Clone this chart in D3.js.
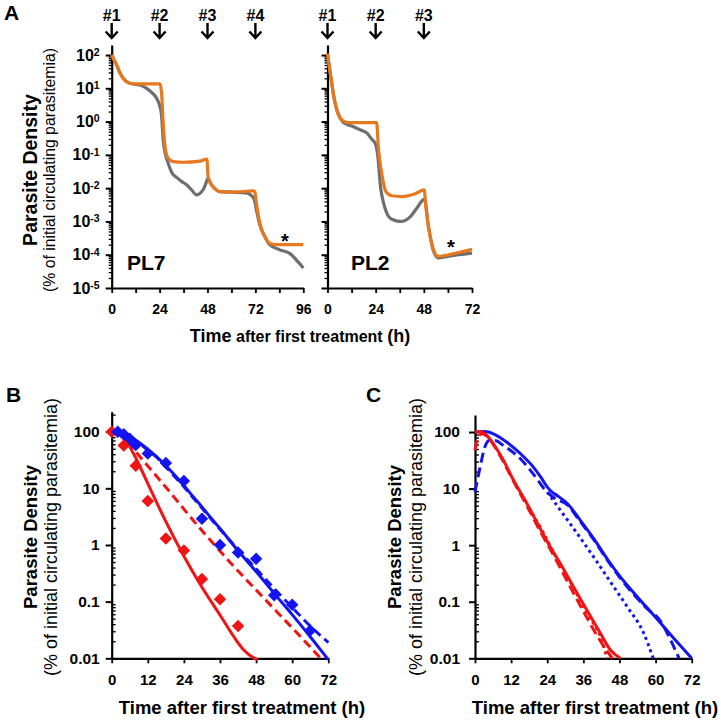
<!DOCTYPE html>
<html>
<head>
<meta charset="utf-8">
<script src="https://cdnjs.cloudflare.com/ajax/libs/d3/7.8.5/d3.min.js"></script>
<style>
body { margin: 0; background: #fff; }
svg { font-family: "Liberation Sans", Arial, sans-serif; }
</style>
</head>
<body>
<div id="graph"></div>
<script>
// panel A: [hours, % of initial circulating parasitemia]
var pl7Orange = [[0,100],[1,75],[2.5,50],[4,30],[5.8,20],[7,16.5],[8.3,14.8],[10.8,13.5],[24.2,13.5],[25,7],[25.8,0.9],[26.7,0.18],[27.5,0.1],[28.3,0.079],[30.8,0.063],[35.8,0.06],[44.2,0.065],[47.7,0.074],[48.3,0.022],[49.5,0.014],[50.8,0.011],[54.2,0.0079],[60.8,0.0076],[70.8,0.0083],[71.7,0.0078],[72.5,0.0035],[74.2,0.0009],[75.5,0.0005],[76.7,0.00035],[79.2,0.00022],[82.5,0.0002],[96,0.0002]];
var pl7Gray = [[0,100],[1,75],[2.5,50],[4,30],[5.8,20],[7,16.5],[8.3,14.8],[10.8,13.5],[14,12.6],[17.5,10],[20,7.6],[22.5,5],[24.2,2.8],[25,1.5],[25.8,0.28],[27,0.1],[28.3,0.056],[30,0.03],[32.5,0.021],[35,0.016],[37.5,0.0126],[40,0.0089],[42.5,0.0063],[44,0.0068],[45.8,0.0089],[47,0.013],[48.3,0.02],[49.5,0.014],[50.8,0.011],[54.2,0.0079],[60.8,0.0076],[67.5,0.0072],[70,0.006],[71.5,0.0045],[72.5,0.0022],[74.2,0.00079],[76.7,0.00035],[79.2,0.0002],[84.2,0.00014],[89.2,0.00011],[92.5,0.00007],[96,0.00004]];
var pl2Orange = [[0,110],[1,40],[2,16],[3,6.3],[4,3.2],[5.5,1.6],[7.5,1.07],[10,0.93],[24.5,0.93],[25.3,0.178],[26,0.07],[27,0.028],[28.7,0.0089],[30,0.0068],[32,0.0059],[37,0.0056],[43.7,0.0068],[48.3,0.0089],[48.7,0.0045],[50.3,0.0007],[51.5,0.00028],[52.8,0.00014],[55.3,0.000089],[57.8,0.000093],[65.3,0.000117],[72,0.000145]];
var pl2Gray = [[0,110],[1,40],[2,16],[3,6.3],[4,3.2],[5.5,1.6],[7.5,1.0],[10,0.82],[13,0.7],[16.5,0.56],[19.7,0.45],[22,0.3],[23.8,0.22],[25,0.1],[26.5,0.01],[28,0.0035],[30.5,0.0014],[33,0.0011],[36.3,0.001],[39,0.0011],[41.3,0.0014],[44.5,0.0025],[48.3,0.0047],[50.3,0.0007],[51.5,0.00028],[52.8,0.00013],[55.3,0.00008],[60,0.000089],[65.3,0.0001],[72,0.000112]];
var pl7Doses = [0, 24, 48, 72];
var pl2Doses = [0, 24, 48];
var decadesA = [1e-5, 1e-4, 1e-3, 1e-2, 1e-1, 1, 10, 100];
var hoursA = [0, 12, 24, 36, 48, 60, 72, 84, 96];

// panel B
var bRedPoints = [[0,100],[4,57],[8,25],[12,6],[18,1.3],[24,0.8],[30,0.25],[36,0.11],[42,0.037]];
var bBluePoints = [[2,100],[4,90],[6,75],[8,58],[12,41],[18,28],[24,13.5],[30,2.9],[36,1.0],[42,0.74],[48,0.57],[54,0.13],[60,0.088],[66,0.031]];
var bRedSolid = [[0,100],[2.5,88],[5,66],[7.8,36],[12.2,11.5],[18.3,2.4],[24.1,0.62],[30,0.18],[36.1,0.057],[40.6,0.024],[43.9,0.014],[47.2,0.0102],[48.5,0.0095]];
var bRedDashed = [[2,100],[5,68],[9.4,36],[18.3,10],[29.4,1.95],[40.6,0.42],[51.7,0.1],[62.8,0.024],[70,0.0093]];
var bBlueSolid = [[0,100],[3,98],[6,83],[9,65],[12,49],[15,36],[18,25],[21,17],[24,11.2],[27,7.2],[30,4.7],[33,3.0],[36,1.95],[42,0.79],[48,0.34],[54,0.14],[60,0.059],[66,0.024],[72,0.0095]];
var bBlueDashed = [[2,100],[5,85],[9,63],[12,47],[15,35],[18,24],[21,16],[24,10.7],[27,6.9],[30,4.5],[33,2.9],[36,1.9],[42,0.83],[48,0.38],[54,0.17],[60,0.079],[66,0.037],[72,0.019]];

// panel C
var cBlueSolid = [[0,100],[3.3,102],[6.1,93],[10.6,66],[15,42],[19.4,24],[22.2,15],[24.1,10.5],[25.6,8.7],[27.2,7.6],[30.6,5.5],[35,2.75],[39.4,1.32],[43.9,0.575],[48.3,0.275],[53.9,0.123],[59.4,0.0575],[66.1,0.0224],[72,0.01]];
var cBlueDashed = [[0,8.7],[1.7,24],[3.3,55],[5,72],[7,70],[9.4,58],[15,34],[19.4,18],[23.9,8.7],[26.7,6.6],[30.6,5.2],[35,2.6],[39.4,1.26],[43.9,0.55],[48.3,0.26],[53.9,0.115],[57.2,0.075],[61.7,0.045],[65,0.021],[67.8,0.01]];
var cBlueDotted = [[24,8.7],[28.3,4.2],[33.9,1.62],[39.4,0.62],[45,0.224],[50.6,0.081],[56.1,0.0275],[59.2,0.01]];
var cRedSolid = [[0,100],[1.7,102],[3.9,87],[6.1,62],[9.4,32],[12.8,14],[17.2,5.5],[21.7,1.95],[25,0.93],[28.3,0.48],[32.8,0.18],[37.2,0.071],[41.7,0.0275],[45,0.014],[48.3,0.01]];
var cRedDashed = [[0,48],[1.1,81],[2.2,93],[3.9,85],[6.1,60],[9.4,30],[12.8,13.5],[17.2,5],[21.7,1.74],[25,0.85],[28.3,0.4],[32.8,0.14],[37.2,0.052],[41.7,0.02],[45.6,0.01]];
var cRedDotted = [[18,4.5],[22.8,1.62],[27.2,0.575],[31.7,0.224],[37.2,0.062],[41.7,0.024],[43.9,0.01]];

var decadesBC = [0.01, 0.1, 1, 10, 100];
var hoursBC = [0, 12, 24, 36, 48, 60, 72];

var ORANGE = "#e8781e", GRAY = "#6e6e6e", RED = "#f01414", BLUE = "#1414f0";

var svg = d3.select("#graph").append("svg").attr("width", 721).attr("height", 720);

function makePanel(left, right, top, bottom, xMax, yMin, yMax) {
  return {
    x: d3.scaleLinear().domain([0, xMax]).range([left, right]),
    y: d3.scaleLog().domain([yMin, yMax]).range([bottom, top])
  };
}

var pl7 = makePanel(111.7, 303.3, 45, 288, 96, 1e-5, 200);
var pl2 = makePanel(327.5, 472, 45, 288, 72, 1e-5, 200);
var pB = makePanel(111.7, 328.3, 411.7, 658.3, 72, 0.01, 225);
var pC = makePanel(475, 691.7, 415, 658.3, 72, 0.01, 200);

function logMinors(scale) {
  var dom = scale.domain();
  var lo = Math.floor(Math.log10(dom[0])), hi = Math.ceil(Math.log10(dom[1]));
  var out = [];
  for (var e = lo; e < hi; e++) {
    for (var m = 2; m < 10; m++) {
      var v = m * Math.pow(10, e);
      if (v > dom[0] * 1.0001 && v < dom[1]) out.push(v);
    }
  }
  return out;
}

function drawAxes(p, opt) {
  var g = svg.append("g");
  var x0 = p.x.range()[0], y0 = p.y.range()[0];

  g.append("g")
    .attr("transform", "translate(" + [x0, 0] + ")")
    .call(d3.axisLeft(p.y).tickValues(logMinors(p.y)).tickSize(opt.minorSize).tickSizeOuter(0).tickFormat(""))
    .call(function(a) { a.select(".domain").remove(); })
    .selectAll("line").attr("stroke-width", 1.3);

  var yAx = g.append("g")
    .attr("class", "yaxis")
    .attr("transform", "translate(" + [x0, 0] + ")")
    .call(d3.axisLeft(p.y).tickValues(opt.yTicks).tickSize(6).tickSizeOuter(0).tickPadding(opt.yPad).tickFormat(opt.yFormat || ""));
  yAx.select(".domain").attr("stroke-width", 2.2);
  yAx.selectAll(".tick line").attr("stroke-width", 2);
  yAx.selectAll(".tick text")
    .attr("font-family", '"Liberation Sans", Arial, sans-serif')
    .attr("font-weight", "bold")
    .attr("font-size", opt.yFont)
    .attr("fill", "#000");

  var xAx = g.append("g")
    .attr("transform", "translate(" + [0, y0] + ")")
    .call(d3.axisBottom(p.x).tickValues(opt.xTicks).tickSize(5).tickSizeOuter(0).tickPadding(11).tickFormat(opt.xFormat));
  xAx.select(".domain").attr("stroke-width", 2.2);
  xAx.selectAll(".tick line").attr("stroke-width", 1.8);
  xAx.selectAll(".tick text")
    .attr("font-family", '"Liberation Sans", Arial, sans-serif')
    .attr("font-weight", "bold")
    .attr("font-size", opt.xFont)
    .attr("fill", "#000");
  return yAx;
}

function drawLine(p, data, color, dash, width) {
  svg.append("path")
    .datum(data)
    .attr("fill", "none")
    .attr("stroke", color)
    .attr("stroke-width", width || 3)
    .attr("stroke-dasharray", dash || null)
    .attr("stroke-linejoin", "round")
    .attr("d", d3.line()
      .x(function(d) { return p.x(d[0]); })
      .y(function(d) { return p.y(d[1]); })
      .curve(d3.curveMonotoneX));
}

function drawDiamonds(p, data, color) {
  svg.append("g")
    .selectAll("path")
    .data(data)
    .enter().append("path")
    .attr("d", d3.symbol().type(d3.symbolSquare).size(78))
    .attr("transform", function(d) {
      return "translate(" + [p.x(d[0]), p.y(d[1])] + ")rotate(45)";
    })
    .attr("fill", color);
}

function drawDoses(p, doses) {
  var g = svg.append("g");
  doses.forEach(function(t, i) {
    var x = p.x(t);
    g.append("text")
      .attr("x", x)
      .attr("y", 21)
      .attr("text-anchor", "middle")
      .attr("font-weight", "bold")
      .attr("font-size", 16)
      .text("#" + (i + 1));
    g.append("path")
      .attr("d", "M" + x + ",23L" + x + ",38M" + (x - 6) + ",31.5L" + x + ",38L" + (x + 6) + ",31.5")
      .attr("fill", "none")
      .attr("stroke", "#000")
      .attr("stroke-width", 2.4);
  });
}

function superscriptTicks(axisG) {
  axisG.selectAll(".tick text")
    .text(null)
    .call(function(t) {
      t.append("tspan").text("10");
      t.append("tspan")
        .attr("dy", "-0.45em")
        .attr("font-size", 10.5)
        .text(function(d) { return Math.round(Math.log10(d)); });
    });
}

function yTitle(x1, x2, cy, size1, size2) {
  svg.append("text")
    .attr("transform", "translate(" + [x1, cy] + ")rotate(-90)")
    .attr("text-anchor", "middle")
    .attr("font-weight", "bold")
    .attr("font-size", size1)
    .text("Parasite Density");
  svg.append("text")
    .attr("transform", "translate(" + [x2, cy] + ")rotate(-90)")
    .attr("text-anchor", "middle")
    .attr("font-size", size2)
    .text("(% of initial circulating parasitemia)");
}

function panelLetter(x, y, s) {
  svg.append("text").attr("x", x).attr("y", y)
    .attr("font-weight", "bold").attr("font-size", 21).text(s);
}

// ---- panel A ----
var axA = drawAxes(pl7, {
  yTicks: decadesA, xTicks: hoursA, minorSize: 3, yPad: 6, yFont: 16, xFont: 14,
  yFormat: function(d) { return d; },
  xFormat: function(d) { return d % 24 === 0 ? d : ""; }
});
superscriptTicks(axA);
drawAxes(pl2, {
  yTicks: decadesA, xTicks: hoursA.filter(function(h) { return h <= 72; }), minorSize: 3, yPad: 6, yFont: 16, xFont: 14,
  xFormat: function(d) { return d % 24 === 0 ? d : ""; }
});

drawLine(pl7, pl7Gray, GRAY, null, 3.2);
drawLine(pl7, pl7Orange, ORANGE, null, 3.2);
drawLine(pl2, pl2Gray, GRAY, null, 3.2);
drawLine(pl2, pl2Orange, ORANGE, null, 3.2);

drawDoses(pl7, pl7Doses);
drawDoses(pl2, pl2Doses);

svg.append("text").attr("x", 127).attr("y", 270).attr("font-weight", "bold").attr("font-size", 21).text("PL7");
svg.append("text").attr("x", 351).attr("y", 270).attr("font-weight", "bold").attr("font-size", 21).text("PL2");
svg.append("text").attr("x", 285).attr("y", 248).attr("text-anchor", "middle").attr("font-weight", "bold").attr("font-size", 20).text("*");
svg.append("text").attr("x", 451).attr("y", 254).attr("text-anchor", "middle").attr("font-weight", "bold").attr("font-size", 20).text("*");

var tA = svg.append("text").attr("x", 300).attr("y", 342).attr("text-anchor", "middle").attr("font-weight", "bold");
tA.append("tspan").attr("font-size", 18).text("Time");
tA.append("tspan").attr("font-size", 16).text(" after first treatment ");
tA.append("tspan").attr("font-size", 18).text("(h)");

yTitle(36.5, 55, 170, 19.5, 15.8);
panelLetter(4, 20, "A");

// ---- panel B ----
drawAxes(pB, {
  yTicks: decadesBC, xTicks: hoursBC, minorSize: -4, yPad: 6, yFont: 15.5, xFont: 15,
  yFormat: function(d) { return d; },
  xFormat: function(d) { return d; }
});
drawLine(pB, bRedSolid, RED);
drawLine(pB, bRedDashed, RED, "9,5");
drawDiamonds(pB, bRedPoints, RED);
drawLine(pB, bBlueSolid, BLUE);
drawLine(pB, bBlueDashed, BLUE, "9,5");
drawDiamonds(pB, bBluePoints, BLUE);

yTitle(36.5, 57, 537, 18.5, 18);
svg.append("text").attr("x", 242).attr("y", 714).attr("text-anchor", "middle")
  .attr("font-weight", "bold").attr("font-size", 18.5).text("Time after first treatment (h)");
panelLetter(6, 402, "B");

// ---- panel C ----
drawAxes(pC, {
  yTicks: decadesBC, xTicks: hoursBC, minorSize: -4, yPad: 9, yFont: 15.5, xFont: 15,
  yFormat: function(d) { return d; },
  xFormat: function(d) { return d; }
});
drawLine(pC, cBlueDotted, BLUE, "3,3.5");
drawLine(pC, cBlueDashed, BLUE, "10,5");
drawLine(pC, cBlueSolid, BLUE);
drawLine(pC, cRedDotted, RED, "3,3.5");
drawLine(pC, cRedDashed, RED, "10,5");
drawLine(pC, cRedSolid, RED);

yTitle(401, 422, 537, 18.5, 18);
svg.append("text").attr("x", 595).attr("y", 714).attr("text-anchor", "middle")
  .attr("font-weight", "bold").attr("font-size", 18.5).text("Time after first treatment (h)");
panelLetter(366, 402, "C");
</script>
</body>
</html>
